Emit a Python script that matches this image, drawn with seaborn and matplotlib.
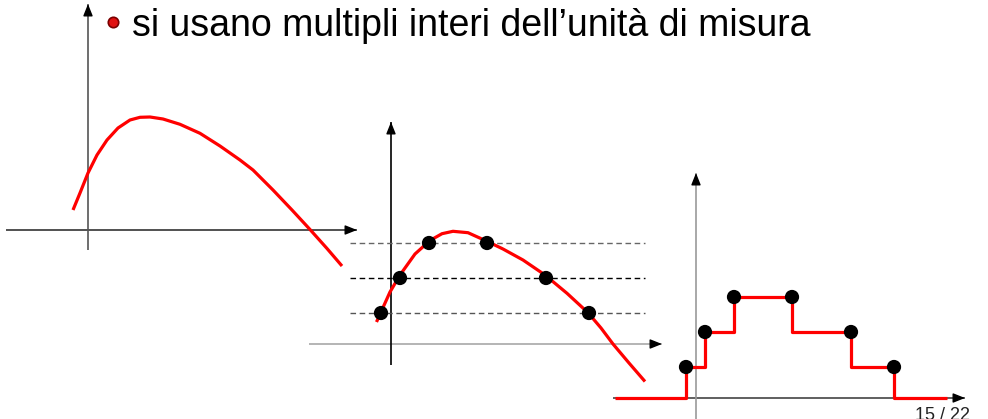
import numpy as np
import pandas as pd
import matplotlib
matplotlib.use("Agg")
import matplotlib.pyplot as plt
import seaborn as sns
from matplotlib.lines import Line2D

# Data (units: one unit = 10 px, each diagram relative to its own origin)
title = "si usano multipli interi dell\u2019unità di misura"
page = "15 / 22"

# continuous signal (diagram 1)
curve1_x = [-1.5, -0.8, 0.0, 0.9, 1.9, 3.0, 4.2, 5.2, 6.2, 7.5, 9.2, 11.2, 13.2,
            15.2, 16.5, 18.5, 20.4, 22.2, 23.9, 25.4]
curve1_y = [2.0, 3.7, 5.7, 7.5, 9.0, 10.2, 11.0, 11.27, 11.3, 11.1, 10.57, 9.67, 8.4,
            7.0, 6.0, 4.0, 2.0, 0.05, -1.85, -3.6]

# sampled signal (diagram 2)
curve2_x = [-1.45, -1.0, -0.1, 0.9, 2.4, 3.9, 5.1, 6.2, 7.7, 9.6, 11.2, 13.2,
            15.4, 17.6, 19.7, 21.0, 22.2, 23.8, 25.4]
curve2_y = [2.2, 3.2, 5.2, 6.9, 9.0, 10.35, 11.03, 11.27, 11.13, 10.27, 9.5, 8.4,
            6.9, 5.07, 3.13, 1.6, 0.0, -1.9, -3.75]
levels = [3.1, 6.6, 10.1]
sample_x = [-1.0, 0.9, 3.8, 9.6, 15.5, 19.8]
sample_level = [1, 2, 3, 3, 2, 1]

# quantized signal (diagram 3)
step_x = [-8.1, -1.0, -1.0, 0.9, 0.9, 3.8, 3.8, 9.6, 9.6, 15.5, 15.5, 19.8, 19.8, 25.1]
step_lv = [0, 0, 1, 1, 2, 2, 3, 3, 2, 2, 1, 1, 0, 0]

W, H, U = 988, 419, 10

sns.set_theme(style="white")
plt.rcParams["font.family"] = ["Liberation Sans", "DejaVu Sans"]
plt.rcParams["lines.solid_capstyle"] = "butt"

fig = plt.figure(figsize=(W / 100, H / 100), dpi=100)
fig.patch.set_facecolor("white")


def panel(ox, oy, xlim, ylim):
    left = (ox + xlim[0] * U) / W
    bottom = (H - (oy - ylim[0] * U)) / H
    ax = fig.add_axes([left, bottom, (xlim[1] - xlim[0]) * U / W, (ylim[1] - ylim[0]) * U / H])
    ax.set_xlim(xlim)
    ax.set_ylim(ylim)
    ax.axis("off")
    ax.patch.set_alpha(0)
    return ax


def axes_arrows(ax, xr, yr, xcol, ycol):
    ax.plot(xr, [0, 0], color=xcol, lw=1.2, clip_on=False, zorder=1)
    ax.plot([0, 0], yr, color=ycol, lw=1.2, clip_on=False, zorder=1)
    style = "-|>,head_length=0.55,head_width=0.22"
    ax.annotate("", xy=(xr[1], 0), xytext=(xr[1] - 0.5, 0),
                arrowprops=dict(arrowstyle=style, color="black", lw=1, mutation_scale=13,
                                shrinkA=0, shrinkB=0))
    ax.annotate("", xy=(0, yr[1]), xytext=(0, yr[1] - 0.5),
                arrowprops=dict(arrowstyle=style, color="black", lw=1, mutation_scale=13,
                                shrinkA=0, shrinkB=0))


red = "#ff0000"

# diagram 1: continuous
ax1 = panel(88, 230, (-9, 28), (-4.5, 23.5))
axes_arrows(ax1, (-8.2, 26.9), (-2.0, 22.6), "#333333", "#555555")
sns.lineplot(x=curve1_x, y=curve1_y, ax=ax1, color=red, lw=2.3, sort=False,
             estimator=None, clip_on=False, zorder=3)

# diagram 2: sampling
ax2 = panel(391, 344, (-9, 28), (-4.5, 23.5))
axes_arrows(ax2, (-8.2, 27.1), (-2.1, 22.2), "#a8a8a8", "black")
for lv, c in zip(levels, ["#555555", "#000000", "#666666"]):
    ax2.plot([-4.1, 25.4], [lv, lv], color=c, lw=1.0, ls=(0, (4, 2.6)), zorder=1)
sns.lineplot(x=curve2_x, y=curve2_y, ax=ax2, color=red, lw=2.3, sort=False,
             estimator=None, clip_on=False, zorder=3)
pts2 = pd.DataFrame({"x": sample_x, "y": [levels[i - 1] for i in sample_level]})
sns.scatterplot(data=pts2, x="x", y="y", ax=ax2, color="black", s=105,
                edgecolor="none", zorder=4, clip_on=False)

# diagram 3: quantized
ax3 = panel(696, 398, (-9, 28), (-2.1, 23.5))
axes_arrows(ax3, (-8.3, 26.9), (-3.0, 22.5), "#444444", "#9a9a9a")
step_y = [0 if l == 0 else levels[l - 1] for l in step_lv]
sns.lineplot(x=step_x, y=step_y, ax=ax3, color=red, lw=2.3, sort=False,
             estimator=None, clip_on=False, zorder=3)
sns.scatterplot(data=pts2, x="x", y="y", ax=ax3, color="black", s=105,
                edgecolor="none", zorder=4, clip_on=False)

# title with bullet
fig.add_artist(Line2D([113 / W], [1 - 22 / H], marker="o", markersize=7.5,
                      markerfacecolor="#e01010", markeredgecolor="#7a0000",
                      markeredgewidth=1.2, transform=fig.transFigure))
fig.text(132 / W, 1 - 36 / H, title, fontsize=27, color="black",
         ha="left", va="baseline")
fig.text(915 / W, 1 - 407 / H, page, fontsize=13, color="#222222",
         ha="left", va="top")

fig.savefig("out.png", dpi=100)
